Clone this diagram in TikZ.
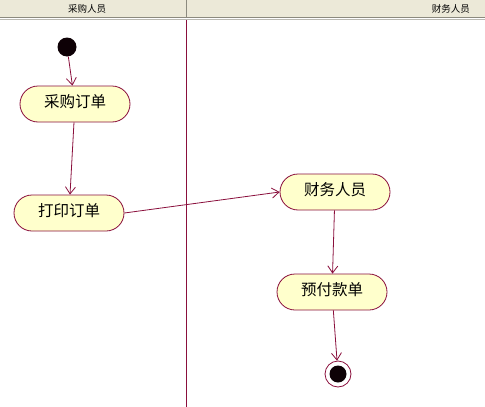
\documentclass[tikz,border=0pt]{standalone}
\usepackage{fontspec}
\newfontfamily\cjk{Noto Sans CJK SC}
\usetikzlibrary{shapes.misc,arrows.meta}
\definecolor{umlred}{HTML}{8A0F3C}
\definecolor{umlfill}{HTML}{FFFFCC}
\definecolor{hdrbg}{HTML}{ECE9D8}
\definecolor{hdrline}{HTML}{8C8A7E}
\tikzset{
  act/.style={rounded rectangle, draw=umlred, fill=umlfill, line width=0.8pt,
    minimum width=110pt, minimum height=36pt, inner sep=0pt,
    font=\cjk\fontsize{15.5}{15.5}\selectfont},
  flow/.style={draw=umlred, line width=0.8pt, -{Straight Barb[length=7pt,width=10pt]}},
  hdr/.style={font=\cjk\fontsize{9.5}{9.5}\selectfont, inner sep=0pt},
}
\begin{document}
\begin{tikzpicture}[x=1pt,y=-1pt]
\useasboundingbox (0,0) rectangle (485,407);
\fill[white] (0,0) rectangle (485,407);
% header
\fill[hdrbg] (0,0) rectangle (485,17);
\draw[hdrline, line width=1pt] (0,17.5) -- (485,17.5);
\draw[hdrline!60, line width=1pt] (0,19.5) -- (485,19.5);
\draw[hdrline, line width=1pt] (186,0) -- (186,17);
\node[hdr] (h1) at (87,9) {采购人员};
\node[hdr, anchor=east] (h2) at (470,9) {财务人员};
% lane divider
\draw[umlred, line width=0.8pt] (186,20) -- (186,407);
% nodes
\node[circle, fill=black!90!umlred, minimum size=19pt, inner sep=0pt] (start) at (67,47) {};
\node[act] (a1) at (75,104) {\raisebox{7pt}{采购订单}};
\node[act] (a2) at (69,213) {\raisebox{7pt}{打印订单}};
\node[act] (b1) at (335,192) {\raisebox{7pt}{财务人员}};
\node[act] (b2) at (332,292) {\raisebox{7pt}{预付款单}};
\node[circle, draw=umlred, line width=0.8pt, fill=white, minimum size=26pt, inner sep=0pt] (end) at (338,374) {};
\fill[black!90!umlred] (end.center) circle (8.5pt);
% flows
\draw[flow] (start) -- (a1);
\draw[flow] (a1) -- (a2);
\draw[flow] (a2.east) -- (b1.west);
\draw[flow] (b1) -- (b2);
\draw[flow] (b2) -- (end);
\end{tikzpicture}
\end{document}
